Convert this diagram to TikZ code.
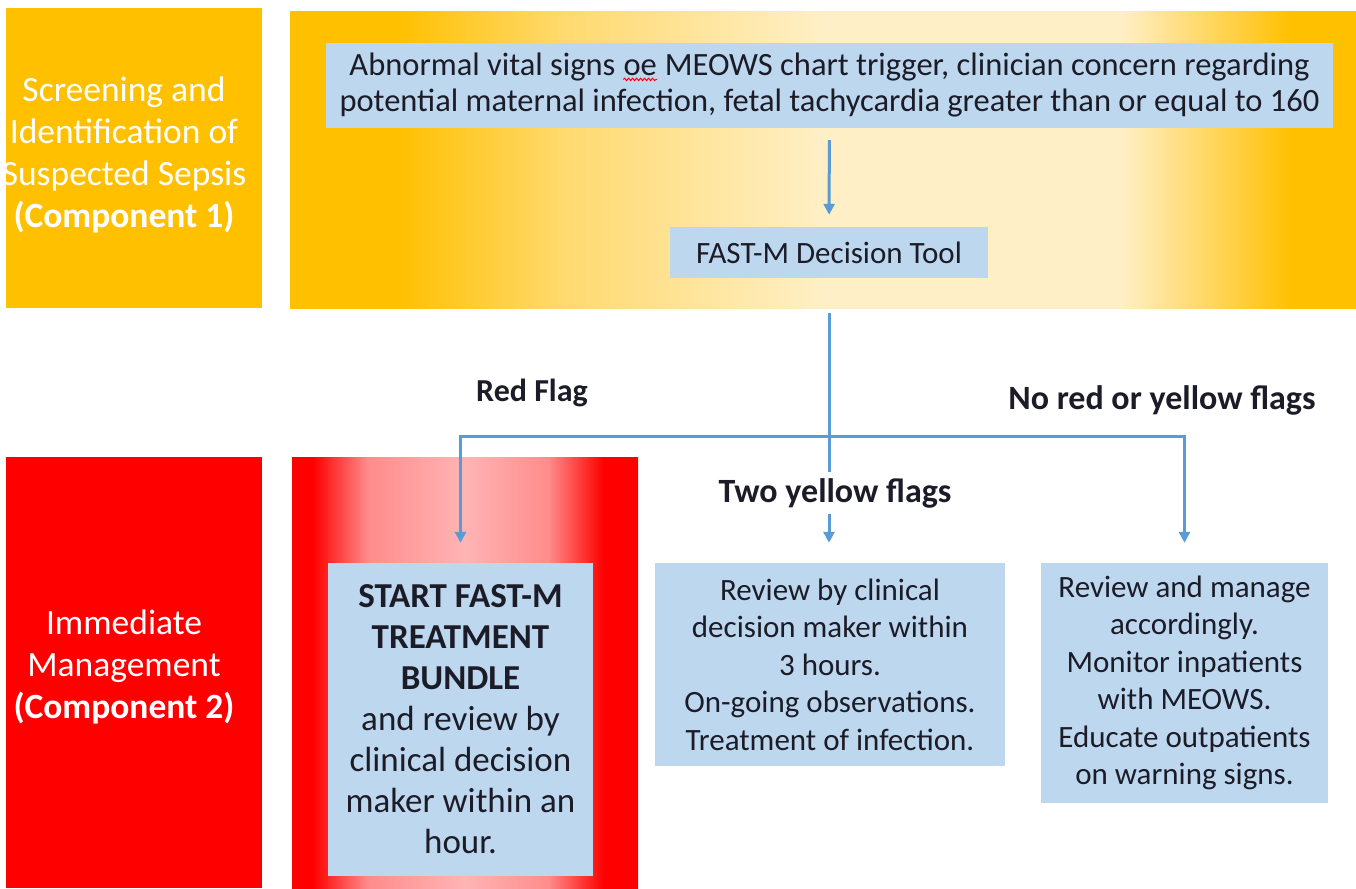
\documentclass[tikz,border=0pt]{standalone}
\usepackage{fontspec}
\setmainfont{Carlito}
\usetikzlibrary{arrows.meta,decorations.pathmorphing}
\definecolor{gold}{HTML}{FFC000}
\definecolor{midgold}{HTML}{FFDA70}
\definecolor{palegold}{HTML}{FFEFC6}
\definecolor{boxblue}{HTML}{BDD7EE}
\definecolor{lineblue}{HTML}{5B9BD5}
\definecolor{sepsisred}{HTML}{FF0000}
\definecolor{midpink}{HTML}{FF8C8C}
\definecolor{pinkish}{HTML}{FFB4B4}
\definecolor{ink}{HTML}{1C1C28}
\pgfdeclarehorizontalshading{goldglow}{100bp}{color(0bp)=(gold); color(30bp)=(gold); color(38bp)=(midgold); color(50bp)=(palegold); color(64bp)=(palegold); color(72bp)=(gold); color(100bp)=(gold)}
\pgfdeclarehorizontalshading{redglow}{100bp}{color(0bp)=(sepsisred); color(28bp)=(sepsisred); color(36bp)=(midpink); color(50bp)=(pinkish); color(62bp)=(midpink); color(70bp)=(sepsisred); color(100bp)=(sepsisred)}
\tikzset{
  bluebox/.style={fill=boxblue,text=ink,align=center,inner sep=0pt},
  sidetext/.style={text=white,align=center,font=\fontsize{35.5}{42}\selectfont},
  flow/.style={draw=lineblue,line width=3pt,-{Triangle[width=11pt,length=11pt]}},
  flag/.style={text=ink,font=\fontsize{34}{38}\selectfont\bfseries}
}
% word with a red spell-check wave under it
\newcommand{\squiggly}[1]{\tikz[baseline=(sq.base)]{\node[fill=none,draw=none,inner sep=0pt,minimum width=0pt,minimum height=0pt,text=ink] (sq) {#1};
  \draw[red,line width=1pt,decorate,decoration={snake,amplitude=1.2pt,segment length=4pt}] ([yshift=-3pt]sq.south west) -- ([yshift=-3pt]sq.south east);}}
\begin{document}
\begin{tikzpicture}[x=1pt,y=-1pt]
\useasboundingbox (0,0) rectangle (1356,888);
% coloured bands
\fill[gold] (6,8) rectangle (262,308);
\shade[shading=goldglow] (290,12) rectangle (1356,308);
\fill[sepsisred] (6,457) rectangle (262,888);
\shade[shading=redglow] (292,457) rectangle (638,888);
\node[sidetext] (screen) at (124,155) {Screening and\\Identification of\\Suspected Sepsis\\\textbf{(Component 1)}};
\node[sidetext] (manage) at (124,667) {Immediate\\Management\\\textbf{(Component 2)}};
% boxes
\node[bluebox,minimum width=1007pt,minimum height=85pt,font=\fontsize{32.5}{36}\selectfont] (signs) at (829.5,85.5)
  {Abnormal vital signs \squiggly{oe} MEOWS chart trigger, clinician concern regarding\\potential maternal infection, fetal tachycardia greater than or equal to 160};
\node[bluebox,minimum width=318pt,minimum height=51pt,font=\fontsize{31}{36}\selectfont] (tool) at (829,252.5) {FAST-M Decision Tool};
\node[bluebox,minimum width=265pt,minimum height=313pt,font=\fontsize{35}{41}\selectfont] (bundle) at (460.5,719.5)
  {\textbf{START FAST-M}\\\textbf{TREATMENT}\\\textbf{BUNDLE}\\and review by\\clinical decision\\maker within an\\hour.};
\node[bluebox,minimum width=350pt,minimum height=203pt,font=\fontsize{31}{37.5}\selectfont] (review) at (830,664.5)
  {Review by clinical\\decision maker within\\3 hours.\\On-going observations.\\Treatment of infection.};
\node[bluebox,minimum width=287pt,minimum height=240pt,font=\fontsize{31}{37.5}\selectfont] (manageacc) at (1184.5,683)
  {Review and manage\\accordingly.\\Monitor inpatients\\with MEOWS.\\Educate outpatients\\on warning signs.};
% connectors
\coordinate (split) at (829,436);
\draw[flow,shorten <=12pt,shorten >=12pt] (signs) -- (tool);
\draw[draw=lineblue,line width=3pt,shorten <=35pt] (tool.south) -- (split);
\draw[flow,shorten >=20pt] (split) -| (bundle.north);
\draw[flow,shorten >=20pt] (split) -- (split |- review.north);
\draw[flow,shorten >=20pt] (split) -| (manageacc.north);
% flag labels
\node[flag,font=\fontsize{32}{38}\selectfont\bfseries] (redflag) at (532,393) {Red Flag};
\node[flag] (noflags) at (1162,400) {No red or yellow flags};
\node[flag,fill=white,inner xsep=2pt,inner ysep=6pt] (twoyellow) at (835,493) {Two yellow flags};
\end{tikzpicture}
\end{document}
